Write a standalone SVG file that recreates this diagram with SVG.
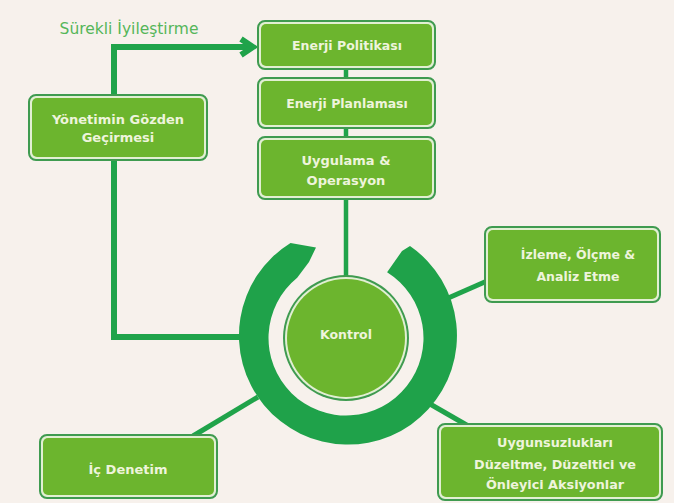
<svg xmlns="http://www.w3.org/2000/svg" width="674" height="503" viewBox="0 0 674 503">
<style>
.bo{fill:#e2efd3;stroke:#3f9b50;stroke-width:2}
.bi{fill:#6cb52e}
.t{font-family:"DejaVu Sans",Verdana,sans-serif;font-weight:bold;fill:#eef4dc;text-anchor:middle}
.c{stroke:#20a34a;fill:none;stroke-linecap:butt}
</style>
<rect width="674" height="503" fill="#f7f1ec"/>
<text x="129" y="34" font-family="DejaVu Sans,sans-serif" font-size="15.5" fill="#55b659" text-anchor="middle">Sürekli İyileştirme</text>
<g id="connectors">
<polyline class="c" stroke-width="6" points="114,95 114,47 250,47"/>
<polyline class="c" stroke-width="6" stroke-linejoin="miter" points="241,39 253,47 241,55"/>
<polyline class="c" stroke-width="6" points="114,160 114,337 240,337"/>
<line class="c" stroke-width="4.5" x1="346" y1="69" x2="346" y2="78"/>
<line class="c" stroke-width="4.5" x1="346" y1="128" x2="346" y2="137"/>
<line class="c" stroke-width="4.5" x1="346" y1="199" x2="346" y2="277"/>
<line class="c" stroke-width="5" x1="446" y1="299" x2="487" y2="281"/>
<line class="c" stroke-width="5" x1="430" y1="404" x2="470" y2="427"/>
<line class="c" stroke-width="5" x1="193" y1="436" x2="258" y2="397"/>
</g>
<g id="ring">
<path fill="#1fa24a" d="M 290.5 243 L 316 247.5 L 309 262 L 297.2 277.8 A 77.5 77.5 0 1 0 387.1 272.3 L 402 251 L 410 246 A 109 109 0 1 1 290.5 243 Z"/>
</g>
<g id="kontrol">
<circle cx="346" cy="338" r="63" fill="#3f9b50"/>
<circle cx="346" cy="338" r="61" fill="#e2efd3"/>
<circle cx="346" cy="338" r="59" fill="#6cb52e"/>
<text class="t" x="346" y="339" font-size="12.5">Kontrol</text>
</g>
<g id="enerji-politikasi">
<rect class="bo" x="258" y="21" width="177" height="48" rx="7"/>
<rect class="bi" x="261" y="24" width="171" height="42" rx="5"/>
<text class="t" x="347" y="50" font-size="12.5">Enerji Politikası</text>
</g>
<g id="enerji-planlamasi">
<rect class="bo" x="258" y="78" width="177" height="50" rx="7"/>
<rect class="bi" x="261" y="81" width="171" height="44" rx="5"/>
<text class="t" x="347" y="108" font-size="12.5">Enerji Planlaması</text>
</g>
<g id="uygulama">
<rect class="bo" x="258" y="137" width="177" height="62" rx="7"/>
<rect class="bi" x="261" y="140" width="171" height="56" rx="5"/>
<text class="t" x="346" y="165" font-size="13">Uygulama &amp;</text>
<text class="t" x="346" y="185" font-size="13">Operasyon</text>
</g>
<g id="yonetimin">
<rect class="bo" x="29" y="95" width="178" height="65" rx="7"/>
<rect class="bi" x="32" y="98" width="172" height="59" rx="5"/>
<text class="t" x="118" y="124" font-size="13">Yönetimin Gözden</text>
<text class="t" x="118" y="142" font-size="13">Geçirmesi</text>
</g>
<g id="izleme">
<rect class="bo" x="485" y="227" width="175" height="75" rx="7"/>
<rect class="bi" x="488" y="230" width="169" height="69" rx="5"/>
<text class="t" x="578" y="259" font-size="12.5">İzleme, Ölçme &amp;</text>
<text class="t" x="578" y="281" font-size="12.5">Analiz Etme</text>
</g>
<g id="uygunsuzluklar">
<rect class="bo" x="438" y="424" width="224" height="76" rx="7"/>
<rect class="bi" x="441" y="427" width="218" height="70" rx="5"/>
<text class="t" x="555" y="447" font-size="12.8">Uygunsuzlukları</text>
<text class="t" x="555" y="469" font-size="12.8">Düzeltme, Düzeltici ve</text>
<text class="t" x="555" y="489" font-size="12.8">Önleyici Aksiyonlar</text>
</g>
<g id="ic-denetim">
<rect class="bo" x="40" y="435" width="177" height="63" rx="7"/>
<rect class="bi" x="43" y="438" width="171" height="57" rx="5"/>
<text class="t" x="128" y="474" font-size="13">İç Denetim</text>
</g>
</svg>
